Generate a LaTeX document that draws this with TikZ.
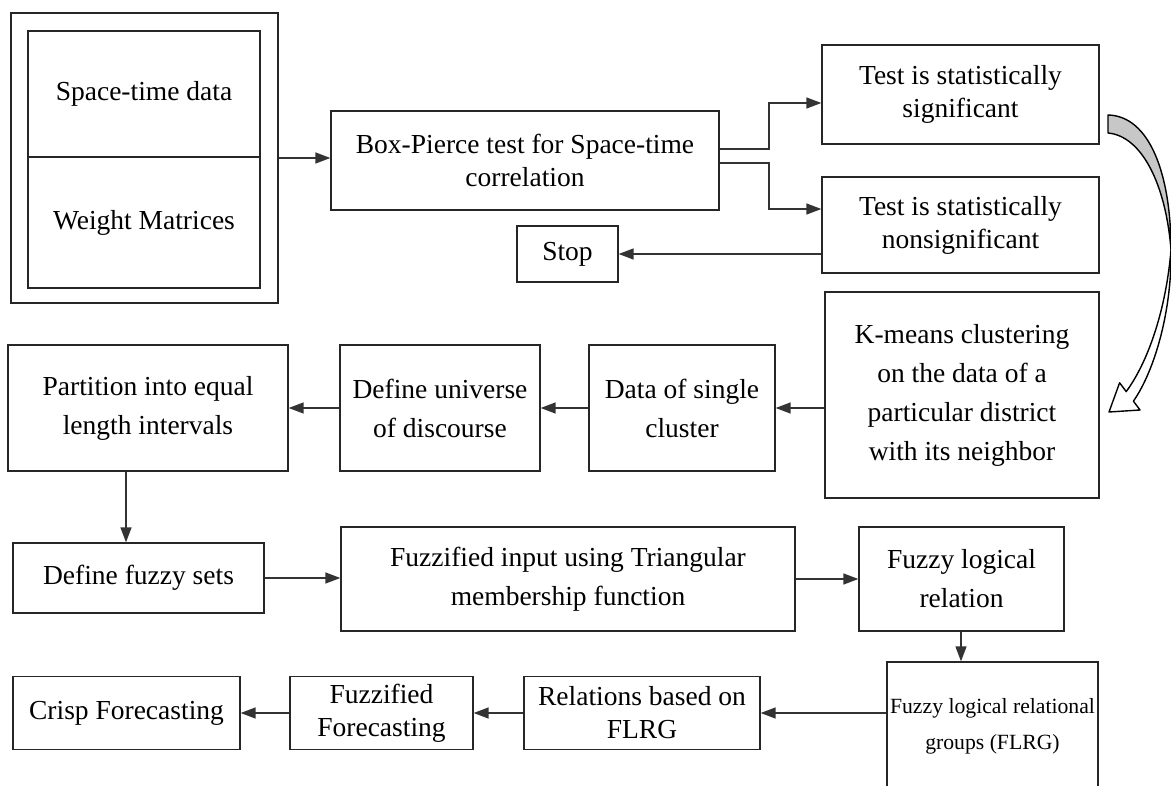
\documentclass[tikz,border=0pt]{standalone}
\usepackage{fontspec}
\setmainfont{Liberation Serif}
\usetikzlibrary{arrows.meta,calc}
\begin{document}
\begin{tikzpicture}[x=1pt,y=-1pt,
  box/.style={draw=black!85, line width=1.3pt, inner sep=0pt, align=center,
    font=\fontsize{27.5}{33}\selectfont, text=black},
  tall/.style={font=\fontsize{27.5}{39}\selectfont},
  small/.style={font=\fontsize{21.7}{36}\selectfont},
  arr/.style={draw=black!80, line width=1.4pt, -{Triangle[length=15pt,width=11pt]}},
  ribbon/.style={line width=1.4pt, line join=round, draw=black}
]
\useasboundingbox (0,0) rectangle (1171,786);
\clip (0,0) rectangle (1171,786);

% top-left double box
\node[box, minimum width=267pt, minimum height=290pt] (outer) at (144.5,158) {};
\node[box, minimum width=232pt, minimum height=126pt] (std) at (144,94) {Space-time data};
\node[box, minimum width=232pt, minimum height=131pt] (wm) at (144,222.5) {Weight Matrices};

% first row
\node[box, minimum width=388pt, minimum height=99pt] (bp) at (525,160.5) {Box-Pierce test for Space-time\\correlation};
\node[box, minimum width=277pt, minimum height=99pt] (sig) at (960.5,94.5) {Test is statistically\\significant};
\node[box, minimum width=277pt, minimum height=96pt] (nonsig) at (960.5,225) {Test is statistically\\nonsignificant};
\node[box, minimum width=101pt, minimum height=56pt] (stop) at (567.5,254) {Stop};

% second row
\node[box, tall, minimum width=274pt, minimum height=206pt] (kmeans) at (962,395) {K-means clustering\\on the data of a\\particular district\\with its neighbor};
\node[box, tall, minimum width=186pt, minimum height=126pt] (single) at (682,408) {Data of single\\cluster};
\node[box, tall, minimum width=200pt, minimum height=126pt] (universe) at (440,408) {Define universe\\of discourse};
\node[box, tall, minimum width=280pt, minimum height=126pt] (partition) at (148,408) {Partition into equal\\length intervals};

% third row
\node[box, minimum width=251pt, minimum height=70pt] (fuzzysets) at (138.5,578) {Define fuzzy sets};
\node[box, tall, minimum width=454pt, minimum height=104pt] (fin) at (568,579) {Fuzzified input using Triangular\\membership function};
\node[box, tall, minimum width=205pt, minimum height=104pt] (flr) at (961.5,579) {Fuzzy logical\\relation};

% fourth row
\node[box, small, minimum width=211pt, minimum height=128pt] (flrg) at (992.5,726) {Fuzzy logical relational\\groups (FLRG)};
\node[box, minimum width=236pt, minimum height=73pt] (rel) at (642,713) {Relations based on\\FLRG};
\node[box, minimum width=183pt, minimum height=73pt] (ffore) at (381.5,713) {Fuzzified\\Forecasting};
\node[box, minimum width=227pt, minimum height=73pt] (crisp) at (126.5,713) {Crisp Forecasting};

% connectors
\draw[arr] (outer.east) -- (outer.east -| bp.west);
\draw[arr] (bp.east |- 0,149) -| (769,103) -- (sig.west |- 0,103);
\draw[arr] (bp.east |- 0,163) -| (769,209) -- (nonsig.west |- 0,209);
\draw[arr] (nonsig.west |- stop.east) -- (stop.east);
\draw[arr] (kmeans.west |- single.east) -- (single.east);
\draw[arr] (single.west) -- (universe.east);
\draw[arr] (universe.west) -- (partition.east);
\draw[arr] (partition.south -| 126,0) -- (fuzzysets.north -| 126,0);
\draw[arr] (fuzzysets.east) -- (fuzzysets.east -| fin.west);
\draw[arr] (fin.east) -- (flr.west);
\draw[arr] (flr.south -| 961,0) -- (flrg.north -| 961,0);
\draw[arr] (rel.east -| flrg.west) -- (rel.east);
\draw[arr] (rel.west) -- (ffore.east);
\draw[arr] (ffore.west) -- (crisp.east);

% curved twisted ribbon arrow from significant test to k-means
% grey (back) part
\path[ribbon, fill=black!22]
 (1108,115) .. controls (1150,116) and (1171,175) .. (1171,250)
 .. controls (1166,185) and (1142,136) .. (1108,133) -- cycle;
% white (front) part with open head
\path[ribbon, fill=white]
 (1171,250) .. controls (1172,310) and (1155,370) .. (1133.4,401.2)
 -- (1140,410) -- (1109,412) -- (1119.6,382.8) -- (1126.2,391.6)
 .. controls (1148,362) and (1166,310) .. (1171,250) -- cycle;
\end{tikzpicture}
\end{document}
